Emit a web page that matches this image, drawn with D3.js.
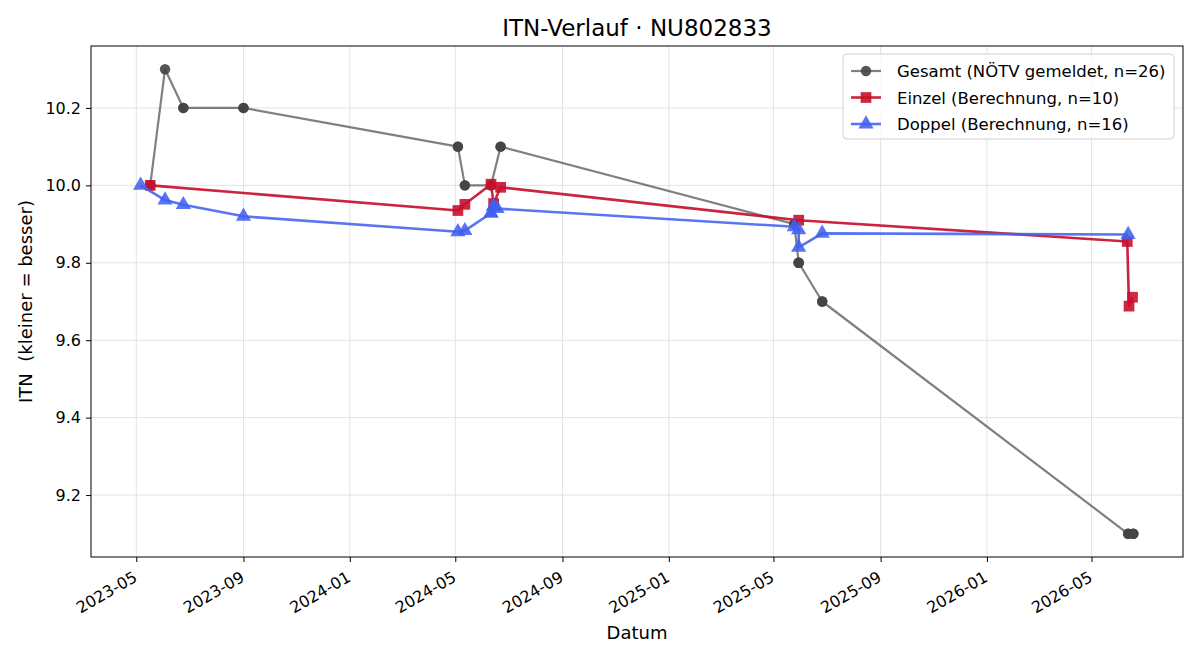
<!DOCTYPE html>
<html>
<head>
<meta charset="utf-8">
<script src="https://cdn.jsdelivr.net/npm/d3@7"></script>
<style>
  body { margin: 0; background: #fff; }
  svg, svg text { font-family: "DejaVu Sans", sans-serif; }
</style>
</head>
<body>
<div id="chart"></div>
<script>
// data
var gesamtDates = ["2023-05-17","2023-05-17","2023-06-03","2023-06-24","2023-06-24","2023-09-01","2023-09-01",
  "2024-05-04","2024-05-04","2024-05-12","2024-05-12","2024-06-11","2024-06-11","2024-06-22","2024-06-22",
  "2025-05-25","2025-05-25","2025-05-30","2025-05-30","2025-05-30","2025-06-26","2025-06-26",
  "2026-06-12","2026-06-12","2026-06-18","2026-06-18"];
var gesamtValues = [10.0,10.0,10.3,10.2,10.2,10.2,10.2,
  10.1,10.1,10.0,10.0,10.0,10.0,10.1,10.1,
  9.9,9.9,9.8,9.8,9.8,9.7,9.7,
  9.1,9.1,9.1,9.1];

var einzelDates = ["2023-05-17","2024-05-04","2024-05-12","2024-06-11","2024-06-14","2024-06-22",
  "2025-05-30","2026-06-11","2026-06-13","2026-06-17"];
var einzelValues = [10.0,9.935,9.951,10.003,9.953,9.995,9.91,9.855,9.688,9.711];

var doppelDates = ["2023-05-06","2023-06-03","2023-06-24","2023-09-01","2024-05-04","2024-05-12",
  "2024-06-11","2024-06-11","2024-06-14","2024-06-14","2024-06-18","2025-05-25","2025-05-30","2025-05-30",
  "2025-06-26","2026-06-12"];
var doppelValues = [10.0,9.962,9.95,9.92,9.88,9.883,
  9.928,9.928,9.946,9.946,9.94,9.893,9.885,9.84,
  9.876,9.873];

var yTicks = [9.2, 9.4, 9.6, 9.8, 10.0, 10.2];

var W = 1200, H = 660;
var margin = {left: 91, right: 17, top: 46, bottom: 103};
var parse = d3.timeParse("%Y-%m-%d");

function build(dates, vals){
  return dates.map(function(d, i){ return {date: parse(d), v: vals[i]}; });
}
var series = [
  {name: "Gesamt (NÖTV gemeldet, n=26)", data: build(gesamtDates, gesamtValues), color: "#555555",
   lineOp: 0.75, width: 2.2, marker: "circle", size: 85, fillOp: 0.9, mcolor: "#444444"},
  {name: "Einzel (Berechnung, n=10)", data: build(einzelDates, einzelValues), color: "#c8102e",
   lineOp: 0.92, width: 2.6, marker: "square", size: 115, fillOp: 0.9, mcolor: "#c8102e"},
  {name: "Doppel (Berechnung, n=16)", data: build(doppelDates, doppelValues), color: "#4060f0",
   lineOp: 0.87, width: 2.6, marker: "triangle", size: 100, fillOp: 0.87, mcolor: "#4060f0"}
];

var all = [];
series.forEach(function(s){ all = all.concat(s.data); });
var xExt = d3.extent(all, function(d){ return d.date; });
var pad = (xExt[1] - xExt[0]) * 0.05;
var yExt = d3.extent(all, function(d){ return d.v; });
var ypad = (yExt[1] - yExt[0]) * 0.05;

var x = d3.scaleTime()
  .domain([new Date(+xExt[0] - pad), new Date(+xExt[1] + pad)])
  .range([margin.left, W - margin.right]);
var y = d3.scaleLinear()
  .domain([yExt[0] - ypad, yExt[1] + ypad])
  .range([H - margin.bottom, margin.top]);

var svg = d3.select("#chart").append("svg")
  .attr("width", W).attr("height", H);

var xTicks = d3.timeMonth.every(4).range(parse("2023-05-01"), parse("2026-06-01"));

// grid
svg.append("g").selectAll("line").data(xTicks).enter().append("line")
  .attr("x1", function(d){ return x(d); }).attr("x2", function(d){ return x(d); })
  .attr("y1", margin.top).attr("y2", H - margin.bottom)
  .attr("stroke", "#e3e3e3").attr("stroke-width", 1);
svg.append("g").selectAll("line").data(yTicks).enter().append("line")
  .attr("y1", function(d){ return y(d); }).attr("y2", function(d){ return y(d); })
  .attr("x1", margin.left).attr("x2", W - margin.right)
  .attr("stroke", "#e3e3e3").attr("stroke-width", 1);

// axes
var xAxis = svg.append("g")
  .attr("transform", "translate(0," + (H - margin.bottom) + ")")
  .call(d3.axisBottom(x).tickValues(xTicks).tickFormat(d3.timeFormat("%Y-%m")).tickSizeOuter(0).tickSize(5).tickPadding(4));
xAxis.attr("font-family", "DejaVu Sans").attr("font-size", 16);
xAxis.selectAll("text")
  .attr("fill", "#000")
  .attr("text-anchor", "end")
  .attr("transform", "rotate(-30)")
  .attr("dx", "-0.65em").attr("dy", "0.75em");
var yAxis = svg.append("g")
  .attr("transform", "translate(" + margin.left + ",0)")
  .call(d3.axisLeft(y).tickValues(yTicks).tickFormat(d3.format(".1f")).tickSizeOuter(0).tickSize(5).tickPadding(5));
yAxis.attr("font-family", "DejaVu Sans").attr("font-size", 16);
yAxis.selectAll("text").attr("fill", "#000");
svg.selectAll(".domain").remove();
svg.selectAll(".tick line").attr("stroke", "#000");

svg.append("rect")
  .attr("x", margin.left).attr("y", margin.top)
  .attr("width", W - margin.left - margin.right)
  .attr("height", H - margin.top - margin.bottom)
  .attr("fill", "none").attr("stroke", "#000").attr("stroke-width", 1);

// series
var line = d3.line().x(function(d){ return x(d.date); }).y(function(d){ return y(d.v); });
var symbols = {circle: d3.symbolCircle, square: d3.symbolSquare, triangle: d3.symbolTriangle};

series.forEach(function(s){
  var g = svg.append("g");
  g.append("path").datum(s.data)
    .attr("d", line).attr("fill", "none")
    .attr("stroke", s.color).attr("stroke-opacity", s.lineOp)
    .attr("stroke-width", s.width).attr("stroke-linejoin", "round");
  g.selectAll("path.m").data(s.data).enter().append("path")
    .attr("class", "m")
    .attr("d", d3.symbol().type(symbols[s.marker]).size(s.size))
    .attr("transform", function(d){ return "translate(" + x(d.date) + "," + y(d.v) + ")"; })
    .attr("fill", s.mcolor).attr("fill-opacity", s.fillOp);
});

// titles
svg.append("text").attr("x", (margin.left + W - margin.right) / 2).attr("y", 36)
  .attr("text-anchor", "middle").attr("font-size", 23).text("ITN-Verlauf · NU802833");
svg.append("text").attr("x", (margin.left + W - margin.right) / 2).attr("y", 639)
  .attr("text-anchor", "middle").attr("font-size", 18).text("Datum");
svg.append("text")
  .attr("transform", "translate(32," + ((margin.top + H - margin.bottom) / 2) + ") rotate(-90)")
  .attr("text-anchor", "middle").attr("font-size", 18)
  .style("white-space", "pre").text("ITN  (kleiner = besser)");

// legend
var lg = svg.append("g").attr("transform", "translate(843,54)");
lg.append("rect").attr("width", 331).attr("height", 85).attr("rx", 4)
  .attr("fill", "#fff").attr("fill-opacity", 0.85).attr("stroke", "#d0d0d0");
series.forEach(function(s, i){
  var yy = 17 + i * 26.5;
  lg.append("line").attr("x1", 8).attr("x2", 38).attr("y1", yy).attr("y2", yy)
    .attr("stroke", s.color).attr("stroke-opacity", s.lineOp).attr("stroke-width", s.width);
  lg.append("path").attr("d", d3.symbol().type(symbols[s.marker]).size(s.size))
    .attr("transform", "translate(23," + yy + ")")
    .attr("fill", s.mcolor).attr("fill-opacity", s.fillOp);
  lg.append("text").attr("x", 54).attr("y", yy + 6).attr("font-size", 16.5).text(s.name);
});
</script>
</body>
</html>
